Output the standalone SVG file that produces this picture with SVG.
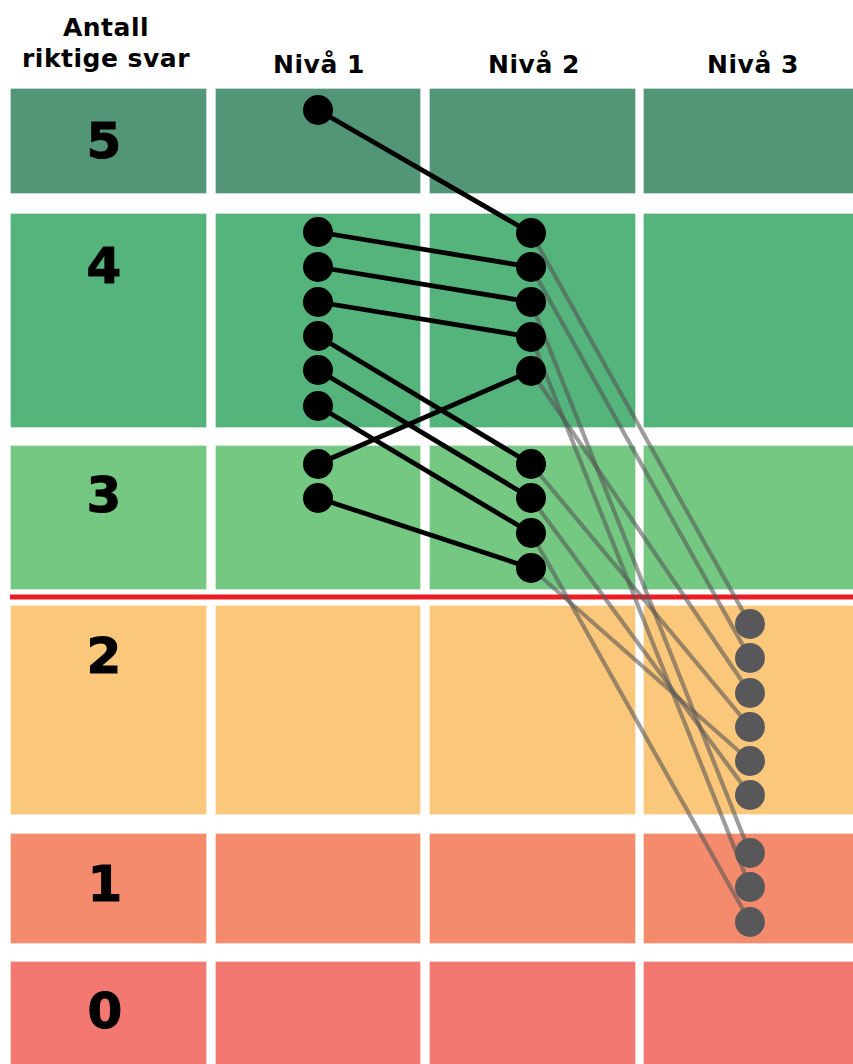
<svg xmlns="http://www.w3.org/2000/svg" width="853" height="1064" viewBox="0 0 853 1064">
<style>
.hd{font-family:"DejaVu Sans","Liberation Sans",sans-serif;font-weight:bold;font-size:25px;fill:#000;text-anchor:middle;letter-spacing:0.5px}
.num{font-family:"DejaVu Sans","Liberation Sans",sans-serif;font-weight:bold;font-size:50px;fill:#000;stroke:#000;stroke-width:1;text-anchor:middle}
.cell{stroke:#ffffff;stroke-opacity:0.3;stroke-width:1}
.r5{fill:#529577}.r4{fill:#54b47c}.r3{fill:#74c882}.r2{fill:#fbc77a}.r1{fill:#f58b6d}.r0{fill:#f37872}
.bl{stroke:#000;stroke-width:4.8;fill:none}
.gr{stroke:#555;stroke-opacity:0.58;stroke-width:4.2;fill:none}
.dk{fill:#000}
.gy{fill:#58585a}
</style>
<rect width="853" height="1064" fill="#fff"/>
<g id="grid">
<rect class="cell r5" x="10.5" y="88.5" width="196" height="105"/>
<rect class="cell r5" x="215.5" y="88.5" width="205" height="105"/>
<rect class="cell r5" x="429.5" y="88.5" width="206" height="105"/>
<rect class="cell r5" x="643.5" y="88.5" width="210" height="105"/>
<rect class="cell r4" x="10.5" y="213.5" width="196" height="214"/>
<rect class="cell r4" x="215.5" y="213.5" width="205" height="214"/>
<rect class="cell r4" x="429.5" y="213.5" width="206" height="214"/>
<rect class="cell r4" x="643.5" y="213.5" width="210" height="214"/>
<rect class="cell r3" x="10.5" y="445.5" width="196" height="144"/>
<rect class="cell r3" x="215.5" y="445.5" width="205" height="144"/>
<rect class="cell r3" x="429.5" y="445.5" width="206" height="144"/>
<rect class="cell r3" x="643.5" y="445.5" width="210" height="144"/>
<rect class="cell r2" x="10.5" y="605.5" width="196" height="209"/>
<rect class="cell r2" x="215.5" y="605.5" width="205" height="209"/>
<rect class="cell r2" x="429.5" y="605.5" width="206" height="209"/>
<rect class="cell r2" x="643.5" y="605.5" width="210" height="209"/>
<rect class="cell r1" x="10.5" y="833.5" width="196" height="110"/>
<rect class="cell r1" x="215.5" y="833.5" width="205" height="110"/>
<rect class="cell r1" x="429.5" y="833.5" width="206" height="110"/>
<rect class="cell r1" x="643.5" y="833.5" width="210" height="110"/>
<rect class="cell r0" x="10.5" y="961.5" width="196" height="103"/>
<rect class="cell r0" x="215.5" y="961.5" width="205" height="103"/>
<rect class="cell r0" x="429.5" y="961.5" width="206" height="103"/>
<rect class="cell r0" x="643.5" y="961.5" width="210" height="103"/>
</g>
<g id="threshold">
<line x1="10" y1="597" x2="853" y2="597" stroke="#ed1c24" stroke-width="5"/>
</g>
<g id="labels">
<text class="hd" x="106" y="36">Antall</text>
<text class="hd" x="106" y="67">riktige svar</text>
<text class="hd" x="319" y="73">Nivå 1</text>
<text class="hd" x="534" y="73">Nivå 2</text>
<text class="hd" x="753" y="73">Nivå 3</text>
<text class="num" x="104" y="158">5</text>
<text class="num" x="104" y="283">4</text>
<text class="num" x="104" y="512">3</text>
<text class="num" x="104" y="673">2</text>
<text class="num" x="105" y="901">1</text>
<text class="num" x="105" y="1028">0</text>
</g>
<g id="connectors">
<line class="bl" x1="318" y1="110" x2="531" y2="233"/>
<line class="bl" x1="318" y1="232" x2="531" y2="267"/>
<line class="bl" x1="318" y1="267" x2="531" y2="302"/>
<line class="bl" x1="318" y1="302" x2="531" y2="337"/>
<line class="bl" x1="318" y1="336" x2="531" y2="464"/>
<line class="bl" x1="318" y1="370" x2="531" y2="498"/>
<line class="bl" x1="318" y1="406" x2="531" y2="533"/>
<line class="bl" x1="318" y1="464" x2="531" y2="371"/>
<line class="bl" x1="318" y1="498" x2="531" y2="568"/>
<line class="gr" x1="531" y1="233" x2="750" y2="624"/>
<line class="gr" x1="531" y1="267" x2="750" y2="658"/>
<line class="gr" x1="531" y1="302" x2="750" y2="853"/>
<line class="gr" x1="531" y1="337" x2="750" y2="887"/>
<line class="gr" x1="531" y1="371" x2="750" y2="693"/>
<line class="gr" x1="531" y1="464" x2="750" y2="727"/>
<line class="gr" x1="531" y1="498" x2="750" y2="795"/>
<line class="gr" x1="531" y1="533" x2="750" y2="922"/>
<line class="gr" x1="531" y1="568" x2="750" y2="761"/>
</g>
<g id="n1-1"><circle class="dk" cx="318" cy="110" r="15"/></g>
<g id="n1-2"><circle class="dk" cx="318" cy="232" r="15"/></g>
<g id="n1-3"><circle class="dk" cx="318" cy="267" r="15"/></g>
<g id="n1-4"><circle class="dk" cx="318" cy="302" r="15"/></g>
<g id="n1-5"><circle class="dk" cx="318" cy="336" r="15"/></g>
<g id="n1-6"><circle class="dk" cx="318" cy="370" r="15"/></g>
<g id="n1-7"><circle class="dk" cx="318" cy="406" r="15"/></g>
<g id="n1-8"><circle class="dk" cx="318" cy="464" r="15"/></g>
<g id="n1-9"><circle class="dk" cx="318" cy="498" r="15"/></g>
<g id="n2-1"><circle class="dk" cx="531" cy="233" r="15"/></g>
<g id="n2-2"><circle class="dk" cx="531" cy="267" r="15"/></g>
<g id="n2-3"><circle class="dk" cx="531" cy="302" r="15"/></g>
<g id="n2-4"><circle class="dk" cx="531" cy="337" r="15"/></g>
<g id="n2-5"><circle class="dk" cx="531" cy="371" r="15"/></g>
<g id="n2-6"><circle class="dk" cx="531" cy="464" r="15"/></g>
<g id="n2-7"><circle class="dk" cx="531" cy="498" r="15"/></g>
<g id="n2-8"><circle class="dk" cx="531" cy="533" r="15"/></g>
<g id="n2-9"><circle class="dk" cx="531" cy="568" r="15"/></g>
<g id="n3-1"><circle class="gy" cx="750" cy="624" r="15"/></g>
<g id="n3-2"><circle class="gy" cx="750" cy="658" r="15"/></g>
<g id="n3-3"><circle class="gy" cx="750" cy="693" r="15"/></g>
<g id="n3-4"><circle class="gy" cx="750" cy="727" r="15"/></g>
<g id="n3-5"><circle class="gy" cx="750" cy="761" r="15"/></g>
<g id="n3-6"><circle class="gy" cx="750" cy="795" r="15"/></g>
<g id="n3-7"><circle class="gy" cx="750" cy="853" r="15"/></g>
<g id="n3-8"><circle class="gy" cx="750" cy="887" r="15"/></g>
<g id="n3-9"><circle class="gy" cx="750" cy="922" r="15"/></g>
</svg>
